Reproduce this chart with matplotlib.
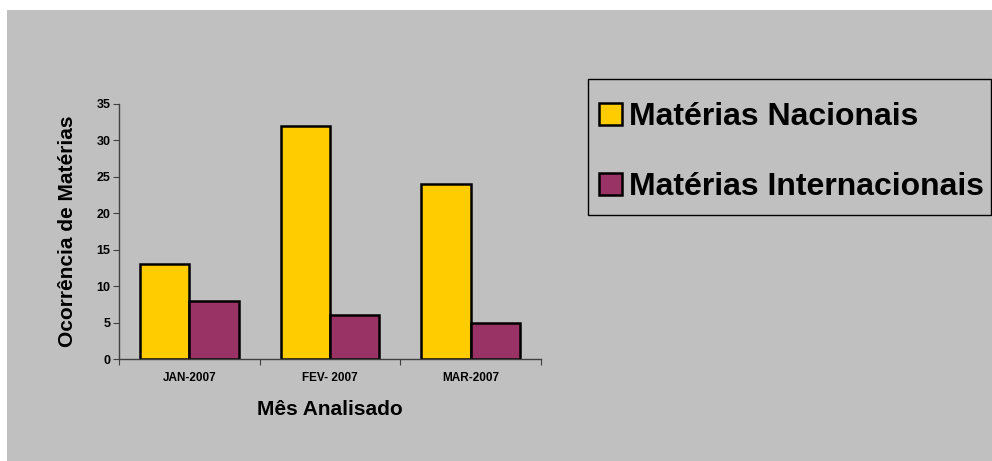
import numpy as np
import matplotlib
matplotlib.use("Agg")
import matplotlib.pyplot as plt
from matplotlib.patches import Rectangle

plt.rcParams['font.family'] = ['Liberation Sans', 'DejaVu Sans']

meses = ["JAN-2007", "FEV- 2007", "MAR-2007"]
nacionais = [13, 32, 24]
internacionais = [8, 6, 5]
series_nomes = ["Matérias Nacionais", "Matérias Internacionais"]
cores = ["#FFCC00", "#993366"]

W, H = 992, 461
fig = plt.figure(figsize=(W / 100, H / 100), dpi=100)
fig.patch.set_facecolor("white")

# fundo cinza da área do gráfico
fig.patches.append(Rectangle((7 / W, 0), 1 - 7 / W, 1 - 10 / H,
                             transform=fig.transFigure, facecolor="#C0C0C0",
                             edgecolor="none", zorder=-10))
# moldura da legenda
fig.patches.append(Rectangle((588 / W, 1 - 215 / H), (991 - 588) / W, (215 - 79) / H,
                             transform=fig.transFigure, facecolor="#C0C0C0",
                             edgecolor="black", linewidth=1.0, zorder=-5))

ax = fig.add_axes([119 / W, (H - 359) / H, (541 - 119) / W, (359 - 104) / H])
ax.set_facecolor("none")

x = np.arange(len(meses))
largura = 0.35
ax.bar(x - largura / 2, nacionais, largura, color=cores[0], edgecolor="black",
       linewidth=1.8, label=series_nomes[0])
ax.bar(x + largura / 2, internacionais, largura, color=cores[1], edgecolor="black",
       linewidth=1.8, label=series_nomes[1])

ax.set_xlim(-0.5, len(meses) - 0.5)
ax.set_ylim(0, 35)
ax.set_yticks(np.arange(0, 36, 5))
ax.set_yticklabels([str(v) for v in range(0, 36, 5)], fontsize=9, fontweight="bold")

# ticks nas divisas das categorias, rótulos no centro
ax.set_xticks(np.arange(-0.5, len(meses), 1))
ax.set_xticklabels([])
ax.set_xticks(x, minor=True)
ax.set_xticklabels(meses, minor=True, fontsize=8.5, fontweight="bold")
ax.tick_params(axis="x", which="minor", length=0, pad=9)
ax.tick_params(axis="x", which="major", length=4, color="#404040")
ax.tick_params(axis="y", length=4, color="#404040", pad=2)

for s in ["top", "right"]:
    ax.spines[s].set_visible(False)
for s in ["left", "bottom"]:
    ax.spines[s].set_color("#404040")
    ax.spines[s].set_linewidth(1.0)

ax.set_xlabel("Mês Analisado", fontsize=15, fontweight="bold", labelpad=12)
ax.set_ylabel("Ocorrência de Matérias", fontsize=15, fontweight="bold", labelpad=14)

leg = fig.legend(loc="upper left", bbox_to_anchor=(588 / W, 1 - 91 / H),
                 prop={"weight": "bold", "size": 23},
                 frameon=False, handlelength=0.72, handleheight=0.72,
                 handletextpad=0.2, labelspacing=1.25, borderpad=0.35,
                 borderaxespad=0)

fig.savefig("out.png", dpi=100, facecolor=fig.get_facecolor())
